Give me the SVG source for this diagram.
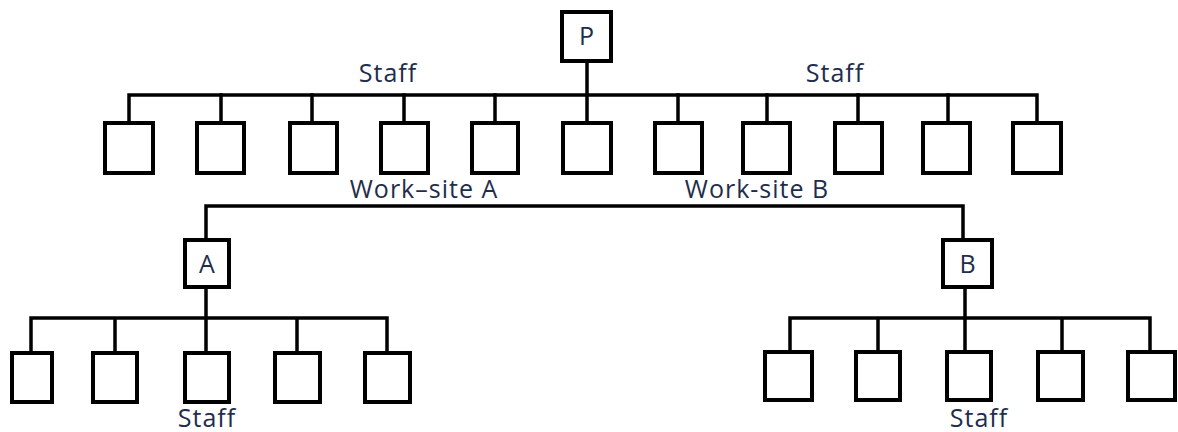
<svg xmlns="http://www.w3.org/2000/svg" width="1178" height="432" viewBox="0 0 1178 432">
<style>
.box{fill:#fff;stroke:#000;stroke-width:4}
.ln{fill:none;stroke:#000;stroke-width:3.5;stroke-linecap:square}
.lbl{font-family:"Open Sans",sans-serif;font-size:25px;letter-spacing:1px;fill:#1f2d4d}
</style>
<rect width="1178" height="432" fill="#fff"/>
<g id="connectors">
<path class="ln" d="M587 61V124"/>
<path class="ln" d="M129 123V95H1037V123"/>
<path class="ln" d="M221 95V123M312 95V123M404 95V123M495 95V123M678 95V123M767 95V123M858 95V123M948 95V123"/>
<path class="ln" d="M206 240V206H963V240"/>
<path class="ln" d="M206 287V353M31 353V318H387V353M115 318V353M297 318V353"/>
<path class="ln" d="M965 287V352M790 352V318H1150V352M878 318V352M1062 318V352"/>
</g>
<g id="P"><rect class="box" x="562" y="12" width="49" height="49"/><text class="lbl" x="587" y="45" text-anchor="middle">P</text></g>
<g id="staff-top">
<g id="t1"><rect class="box" x="105" y="123" width="48" height="50"/></g>
<g id="t2"><rect class="box" x="197" y="123" width="47" height="50"/></g>
<g id="t3"><rect class="box" x="290" y="123" width="47" height="50"/></g>
<g id="t4"><rect class="box" x="381" y="123" width="47" height="50"/></g>
<g id="t5"><rect class="box" x="472" y="123" width="46" height="50"/></g>
<g id="t6"><rect class="box" x="563" y="123" width="48" height="50"/></g>
<g id="t7"><rect class="box" x="655" y="123" width="47" height="50"/></g>
<g id="t8"><rect class="box" x="743" y="123" width="47" height="50"/></g>
<g id="t9"><rect class="box" x="835" y="123" width="47" height="50"/></g>
<g id="t10"><rect class="box" x="923" y="123" width="47" height="50"/></g>
<g id="t11"><rect class="box" x="1013" y="123" width="48" height="50"/></g>
</g>
<text class="lbl" x="388" y="82" text-anchor="middle">Staff</text>
<text class="lbl" x="835" y="82" text-anchor="middle">Staff</text>
<text class="lbl" x="424" y="198" text-anchor="middle">Work–site A</text>
<text class="lbl" x="757" y="198" text-anchor="middle">Work-site B</text>
<g id="A"><rect class="box" x="185" y="240" width="44" height="47"/><text class="lbl" x="207.5" y="273" text-anchor="middle">A</text></g>
<g id="B"><rect class="box" x="943" y="240" width="49" height="47"/><text class="lbl" x="968" y="273" text-anchor="middle">B</text></g>
<g id="staff-A">
<g id="a1"><rect class="box" x="12" y="353" width="40" height="49"/></g>
<g id="a2"><rect class="box" x="93" y="353" width="44" height="49"/></g>
<g id="a3"><rect class="box" x="185" y="353" width="44" height="49"/></g>
<g id="a4"><rect class="box" x="275" y="353" width="45" height="49"/></g>
<g id="a5"><rect class="box" x="365" y="353" width="45" height="49"/></g>
</g>
<text class="lbl" x="207" y="427" text-anchor="middle">Staff</text>
<g id="staff-B">
<g id="b1"><rect class="box" x="765" y="352" width="47" height="48"/></g>
<g id="b2"><rect class="box" x="856" y="352" width="44" height="48"/></g>
<g id="b3"><rect class="box" x="947" y="352" width="44" height="48"/></g>
<g id="b4"><rect class="box" x="1038" y="352" width="45" height="48"/></g>
<g id="b5"><rect class="box" x="1128" y="352" width="47" height="48"/></g>
</g>
<text class="lbl" x="979" y="427" text-anchor="middle">Staff</text>
</svg>
